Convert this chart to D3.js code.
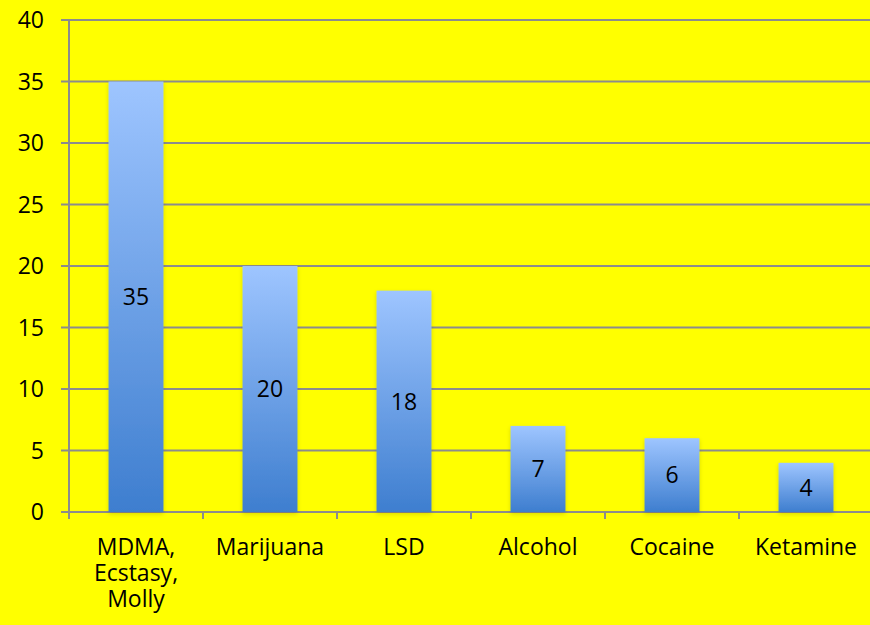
<html>
<head>
<script src="https://cdn.jsdelivr.net/npm/d3@7"></script>
<style>
    body { margin: 0; background: #ffff00; }
    text { font-family: "Open Sans", "Noto Sans", sans-serif; fill: #000; }
</style>
</head>
<body>
<script>
// data
var categories = [["MDMA,", "Ecstasy,", "Molly"], ["Marijuana"], ["LSD"], ["Alcohol"], ["Cocaine"], ["Ketamine"]];
var values = [35, 20, 18, 7, 6, 4];
var yTicks = [0, 5, 10, 15, 20, 25, 30, 35, 40];

var width = 870, height = 625;
var plotLeft = 69, plotRight = 873, plotTop = 20, plotBottom = 512;
var fontSize = 23;

var svg = d3.select("body").append("svg")
    .attr("width", width)
    .attr("height", height);

svg.append("rect").attr("width", width).attr("height", height).attr("fill", "#ffff00");

var defs = svg.append("defs");
var grad = defs.append("linearGradient")
    .attr("id", "barGrad")
    .attr("x1", 0).attr("y1", 0).attr("x2", 0).attr("y2", 1);
grad.append("stop").attr("offset", "0%").attr("stop-color", "#9ec5ff");
grad.append("stop").attr("offset", "100%").attr("stop-color", "#3e7ecf");

var shadow = defs.append("filter").attr("id", "shadow")
    .attr("x", "-20%").attr("y", "-10%").attr("width", "140%").attr("height", "120%");
shadow.append("feDropShadow")
    .attr("dx", 0).attr("dy", 2).attr("stdDeviation", 2)
    .attr("flood-color", "#000").attr("flood-opacity", 0.15);

var x = d3.scaleBand()
    .domain(d3.range(values.length))
    .range([plotLeft, plotRight]);

var y = d3.scaleLinear()
    .domain([0, 40])
    .range([plotBottom, plotTop]);

// gridlines
svg.append("g")
    .selectAll("line")
    .data(yTicks)
    .enter().append("line")
        .attr("x1", plotLeft - 8)
        .attr("x2", width)
        .attr("y1", function(d) { return y(d); })
        .attr("y2", function(d) { return y(d); })
        .attr("stroke", "#8c8c8c")
        .attr("stroke-width", 2);

// y axis line
svg.append("line")
    .attr("x1", plotLeft).attr("x2", plotLeft)
    .attr("y1", plotTop).attr("y2", plotBottom + 7)
    .attr("stroke", "#8c8c8c").attr("stroke-width", 2);

// y tick labels
svg.append("g")
    .selectAll("text")
    .data(yTicks)
    .enter().append("text")
        .attr("x", 44)
        .attr("y", function(d) { return y(d); })
        .attr("dy", "0.36em")
        .attr("text-anchor", "end")
        .attr("font-size", fontSize)
        .text(function(d) { return d; });

// x tick marks
svg.append("g")
    .selectAll("line")
    .data(d3.range(1, values.length))
    .enter().append("line")
        .attr("x1", function(d) { return x(d); })
        .attr("x2", function(d) { return x(d); })
        .attr("y1", plotBottom)
        .attr("y2", plotBottom + 7)
        .attr("stroke", "#8c8c8c")
        .attr("stroke-width", 2);

// bars
var barW = x.bandwidth() * 0.41;
svg.append("g")
    .selectAll("rect")
    .data(values)
    .enter().append("rect")
        .attr("x", function(d, i) { return x(i) + x.bandwidth() / 2 - barW / 2; })
        .attr("y", function(d) { return y(d); })
        .attr("width", barW)
        .attr("height", function(d) { return plotBottom - y(d); })
        .attr("fill", "url(#barGrad)")
        .attr("filter", "url(#shadow)");

// value labels
svg.append("g")
    .selectAll("text")
    .data(values)
    .enter().append("text")
        .attr("x", function(d, i) { return x(i) + x.bandwidth() / 2; })
        .attr("y", function(d) { return (y(d) + plotBottom) / 2; })
        .attr("dy", "0.36em")
        .attr("text-anchor", "middle")
        .attr("font-size", fontSize)
        .text(function(d) { return d; });

// category labels (one text per category, lines as tspans)
categories.forEach(function(lines, i) {
    var cx = x(i) + x.bandwidth() / 2;
    var t = svg.append("text")
        .attr("x", cx)
        .attr("y", 555)
        .attr("text-anchor", "middle")
        .attr("font-size", fontSize);
    lines.forEach(function(s, j) {
        t.append("tspan")
            .attr("x", cx)
            .attr("y", 555 + j * 26)
            .text(s);
    });
});
</script>
</body>
</html>
